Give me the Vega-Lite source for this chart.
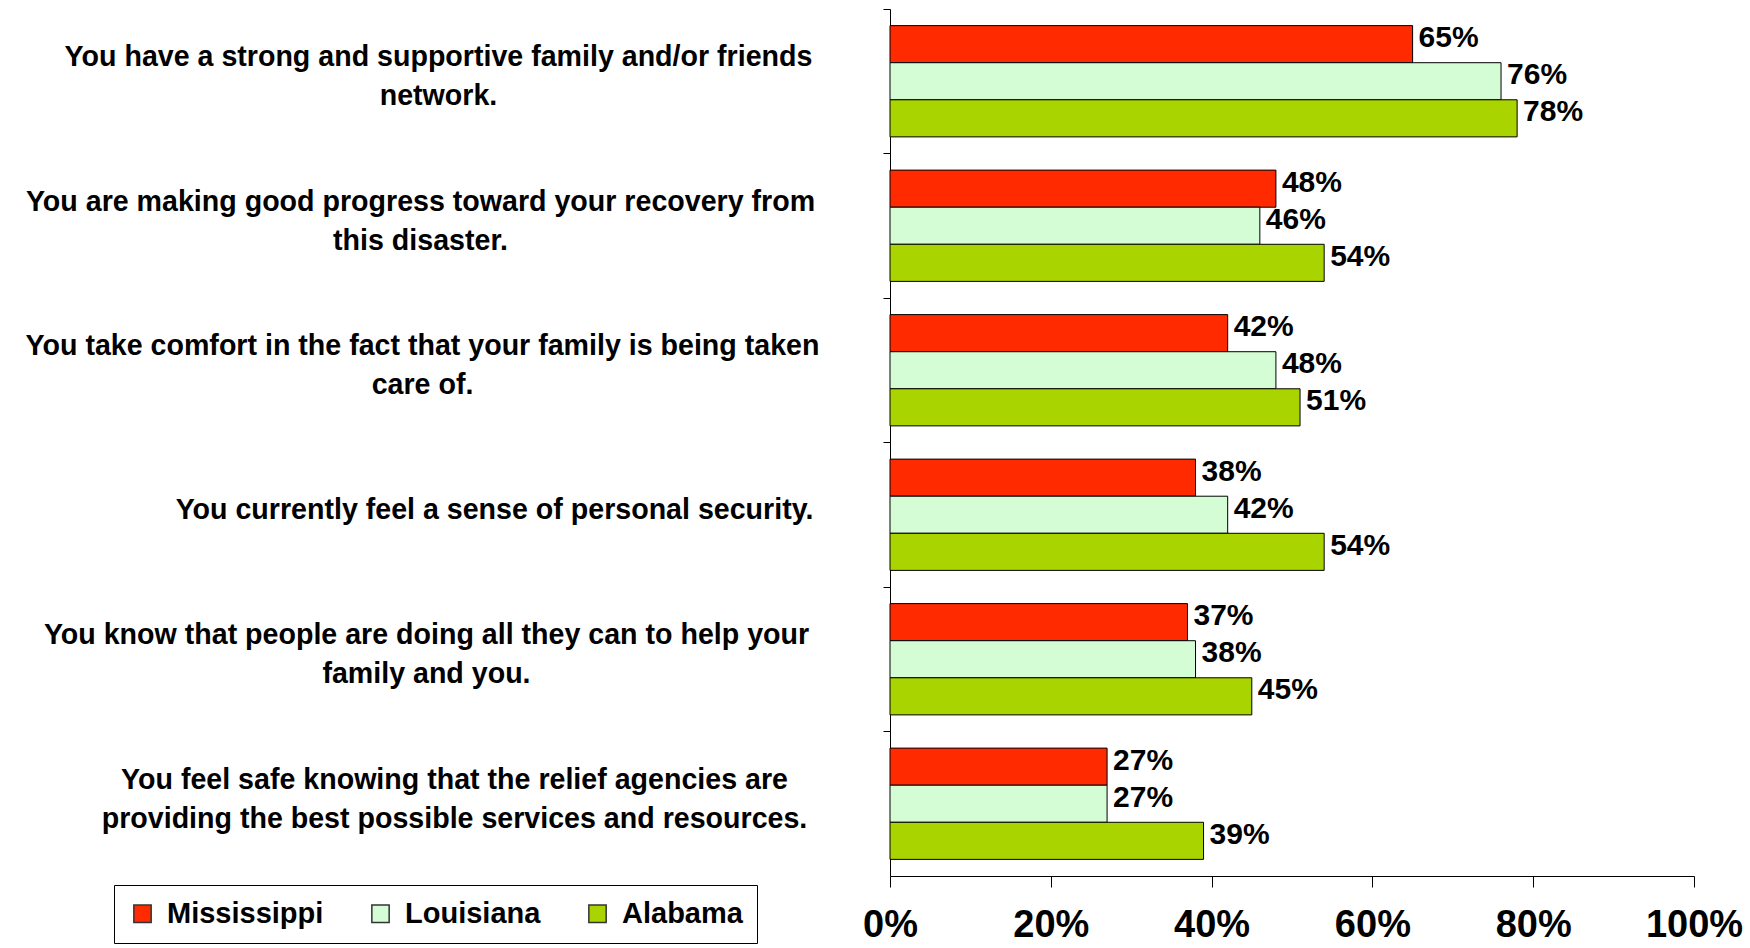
{
  "$schema": "https://vega.github.io/schema/vega-lite/v6.json",
  "width": 804,
  "height": 867,
  "autosize": {"type": "none"},
  "padding": {"left": 890, "top": 9, "right": 56, "bottom": 72},
  "background": "white",
  "config": {"view": {"stroke": null}, "font": "Liberation Sans"},
  "data": {"values": [
    {"q": "You have a strong and supportive family and/or friends|network.", "state": "Mississippi", "value": 0.65},
    {"q": "You have a strong and supportive family and/or friends|network.", "state": "Louisiana", "value": 0.76},
    {"q": "You have a strong and supportive family and/or friends|network.", "state": "Alabama", "value": 0.78},
    {"q": "You are making good progress toward your recovery from|this disaster.", "state": "Mississippi", "value": 0.48},
    {"q": "You are making good progress toward your recovery from|this disaster.", "state": "Louisiana", "value": 0.46},
    {"q": "You are making good progress toward your recovery from|this disaster.", "state": "Alabama", "value": 0.54},
    {"q": "You take comfort in the fact that your family is being taken|care of.", "state": "Mississippi", "value": 0.42},
    {"q": "You take comfort in the fact that your family is being taken|care of.", "state": "Louisiana", "value": 0.48},
    {"q": "You take comfort in the fact that your family is being taken|care of.", "state": "Alabama", "value": 0.51},
    {"q": "You currently feel a sense of personal security.", "state": "Mississippi", "value": 0.38},
    {"q": "You currently feel a sense of personal security.", "state": "Louisiana", "value": 0.42},
    {"q": "You currently feel a sense of personal security.", "state": "Alabama", "value": 0.54},
    {"q": "You know that people are doing all they can to help your|family and you.", "state": "Mississippi", "value": 0.37},
    {"q": "You know that people are doing all they can to help your|family and you.", "state": "Louisiana", "value": 0.38},
    {"q": "You know that people are doing all they can to help your|family and you.", "state": "Alabama", "value": 0.45},
    {"q": "You feel safe knowing that the relief agencies are|providing the best possible services and resources.", "state": "Mississippi", "value": 0.27},
    {"q": "You feel safe knowing that the relief agencies are|providing the best possible services and resources.", "state": "Louisiana", "value": 0.27},
    {"q": "You feel safe knowing that the relief agencies are|providing the best possible services and resources.", "state": "Alabama", "value": 0.39}
  ]},
  "encoding": {
    "y": {"field": "q", "type": "nominal", "sort": null,
      "scale": {"paddingInner": 0.23, "paddingOuter": 0.115}},
    "yOffset": {"field": "state", "type": "nominal",
      "sort": ["Mississippi", "Louisiana", "Alabama"],
      "scale": {"paddingInner": 0, "paddingOuter": 0}},
    "x": {"field": "value", "type": "quantitative",
      "scale": {"domain": [0, 1]}}
  },
  "layer": [
    {
      "mark": {"type": "bar", "stroke": "#000000", "strokeWidth": 1},
      "encoding": {
        "y": {"field": "q", "type": "nominal", "sort": null,
          "axis": {"title": null, "ticks": false, "domain": true, "domainColor": "#000000",
            "labelExpr": "split(datum.value, '|')",
            "labelAlign": "center", "labelFontSize": 28.6,
            "labelFontWeight": "bold", "labelColor": "#000000", "labelLineHeight": 39,
            "labelPadding": {"condition": [
              {"test": "indexof(datum.value, 'strong') >= 0", "value": 452},
              {"test": "indexof(datum.value, 'progress') >= 0", "value": 470},
              {"test": "indexof(datum.value, 'comfort') >= 0", "value": 468},
              {"test": "indexof(datum.value, 'security') >= 0", "value": 396},
              {"test": "indexof(datum.value, 'people') >= 0", "value": 464}
            ], "value": 436},
            "labelOffset": {"condition": {"test": "indexof(datum.value, '|') >= 0", "value": -24}, "value": -5},
            "labelLimit": 900}},
        "x": {"field": "value", "type": "quantitative",
          "axis": {"title": null, "format": ".0%", "values": [0, 0.2, 0.4, 0.6, 0.8, 1],
            "grid": false, "domainColor": "#000000", "tickColor": "#000000", "tickSize": 11,
            "labelFontSize": 38, "labelFontWeight": "bold", "labelColor": "#000000",
            "labelPadding": 19, "labelFlush": false}},
        "color": {"field": "state", "type": "nominal",
          "scale": {"domain": ["Mississippi", "Louisiana", "Alabama"],
            "range": ["#FF2A00", "#D5FDD5", "#AAD400"]},
          "legend": {"title": null, "orient": "none", "legendX": -776, "legendY": 876,
            "direction": "horizontal", "columns": 3, "strokeColor": "#000000",
            "padding": 14, "symbolType": "square", "symbolSize": 300,
            "symbolStrokeColor": "#333333", "symbolStrokeWidth": 1.5,
            "labelFontSize": 29, "labelFontWeight": "bold", "labelColor": "#000000",
            "columnPadding": 42, "labelOffset": 10, "symbolOffset": 0}}
      }
    },
    {
      "mark": {"type": "text", "align": "left", "dx": 6, "dy": -6,
        "fontSize": 30, "fontWeight": "bold", "color": "#000000"},
      "encoding": {
        "y": {"field": "q", "type": "nominal", "sort": null,
          "axis": {"title": null, "orient": "left", "labels": false, "domain": false, "ticks": true,
            "tickColor": "#000000", "tickSize": 7, "bandPosition": 0, "tickOffset": -17}},
        "text": {"field": "value", "type": "quantitative", "format": ".0%"}
      }
    }
  ],
  "resolve": {"axis": {"y": "independent"}}
}
